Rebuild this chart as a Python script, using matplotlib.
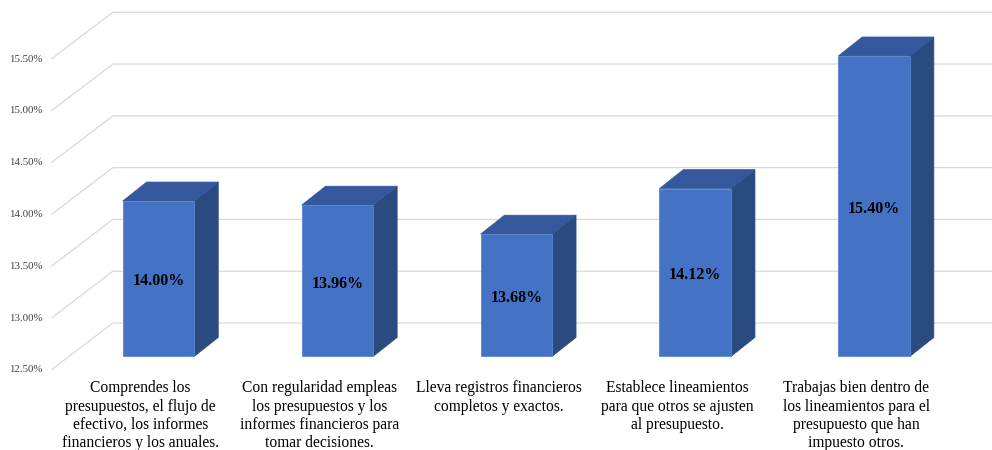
import matplotlib.pyplot as plt
from matplotlib.patches import Polygon

categories = [
    "Comprendes los\npresupuestos, el flujo de\nefectivo, los informes\nfinancieros y los anuales.",
    "Con regularidad empleas\nlos presupuestos y los\ninformes financieros para\ntomar decisiones.",
    "Lleva registros financieros\ncompletos y exactos.",
    "Establece lineamientos\npara que otros se ajusten\nal presupuesto.",
    "Trabajas bien dentro de\nlos lineamientos para el\npresupuesto que han\nimpuesto otros.",
]
values = [14.00, 13.96, 13.68, 14.12, 15.40]
ticks = [12.5, 13.0, 13.5, 14.0, 14.5, 15.0, 15.5]
base = 12.5

# colours of the three visible faces
FRONT = "#4472C4"
TOP = "#34589B"
SIDE = "#2B4A7F"
GRID = "#D9D9D9"
SERIF = ["Liberation Serif", "DejaVu Serif"]

# oblique projection: shifts (category units, value units) from the bar front plane
WALL_FRONT = (-0.100, -0.131)
WALL_BACK = (0.245, 0.322)
BAR_DEPTH = (0.134, 0.183)
BAR_W = 0.40

fig = plt.figure(figsize=(9.92, 4.5), dpi=100)
ax = fig.add_axes([0, 0, 1, 1])
ax.set_xlim(-0.886, 4.659)
ax.set_ylim(11.5965, 15.940)
ax.axis("off")

left = -0.5
right = len(values) - 0.5

# gridlines: diagonal along the side wall, then across the back wall
for t in ticks:
    x0, y0 = left + WALL_FRONT[0], t + WALL_FRONT[1]
    x1, y1 = left + WALL_BACK[0], t + WALL_BACK[1]
    x2 = right + WALL_BACK[0]
    ax.plot([x0, x1, x2], [y0, y1, y1], color=GRID, lw=0.9, zorder=1,
            solid_capstyle="butt")
    ax.annotate(f"{t:.2f}%", (x0, y0), xytext=(-6, 0), textcoords="offset points",
                ha="right", va="center", fontsize=7.8, family=SERIF, color="#404040")

dx, dy = BAR_DEPTH
for i, v in enumerate(values):
    xl, xr = i - BAR_W / 2, i + BAR_W / 2
    side = [(xr, base), (xr + dx, base + dy), (xr + dx, v + dy), (xr, v)]
    top = [(xl, v), (xr, v), (xr + dx, v + dy), (xl + dx, v + dy)]
    front = [(xl, base), (xr, base), (xr, v), (xl, v)]
    ax.add_patch(Polygon(side, closed=True, fc=SIDE, ec=SIDE, lw=0.5, zorder=3))
    ax.add_patch(Polygon(top, closed=True, fc=TOP, ec=TOP, lw=0.5, zorder=3))
    ax.add_patch(Polygon(front, closed=True, fc=FRONT, ec="#5B85D0", lw=0.6, zorder=4))
    ax.annotate(f"{v:.2f}%", (i, (base + v) / 2), xytext=(0, -2), textcoords="offset points",
                ha="center", va="center", fontsize=11.5, fontweight="bold",
                family=SERIF, color="black", zorder=5)

    ax.annotate(categories[i], (i + WALL_FRONT[0], base + WALL_FRONT[1]),
                xytext=(0, -7.5), textcoords="offset points", ha="center", va="top",
                multialignment="center", fontsize=11.2, family=SERIF,
                linespacing=1.18, color="black")

fig.savefig("out.png", dpi=100, facecolor="white")
